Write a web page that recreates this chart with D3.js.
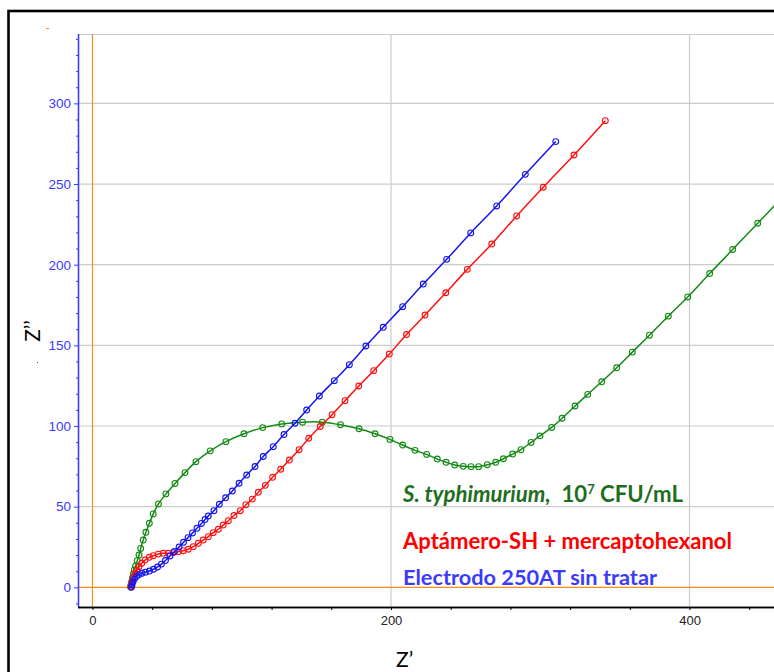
<!DOCTYPE html>
<html><head><meta charset="utf-8">
<script src="https://cdn.jsdelivr.net/npm/d3@7/dist/d3.min.js"></script>
<style>body{margin:0;background:#fff;overflow:hidden} svg{display:block}</style>
</head><body>
<svg id="c" width="774" height="672"></svg>
<script>
// ---- Data (Nyquist plots: Z' vs Z'') ----
const stRe = [25.5,25.8,26.3,26.7,27.3,28.0,28.9,30.0,31.2,32.3,34.0,35.8,38.1,40.7,44.2,49.2,55.3,62.0,69.3,78.9,89.4,101.5,114.0,126.8,140.7,154.0,166.2,178.6,189.3,199.3,207.8,216.1,223.9,231.0,236.9,242.7,248.4,253.6,258.7,264.5,270.2,275.3,281.5,287.1,293.8,299.8,307.7,314.6,323.3,331.8,341.2,351.2,361.7,373.1,385.8,398.8,413.5,428.9,445.7,462.0];
const stIm = [0.2,1.4,3.5,5.6,8.2,10.7,13.2,16.5,20.0,24.1,29.3,34.1,39.7,45.5,51.7,57.9,64.4,71.1,77.9,84.6,90.3,95.2,99.0,101.3,102.4,102.4,100.8,98.3,95.2,91.7,88.2,84.9,82.4,79.5,77.5,75.8,75.0,74.8,74.8,76.0,77.5,79.7,82.6,85.3,89.8,93.9,99.1,104.8,112.4,119.6,127.4,136.1,145.8,156.3,168.1,180.0,194.5,209.4,225.7,241.5];

const aptRe = [25.8,26.1,26.5,27.3,28.5,29.6,31.2,33.0,35.2,38.1,40.7,44.1,47.4,50.8,54.1,57.5,60.8,64.2,67.5,70.9,74.2,77.6,80.9,84.3,87.6,91.0,94.8,99.0,102.8,107.1,111.1,115.8,120.7,126.1,131.9,138.4,144.9,152.6,160.5,169.2,178.4,188.4,198.9,210.4,222.8,236.7,251.1,267.5,284.2,302.0,322.6,343.6];
const aptIm = [0.5,2.0,3.5,6.2,8.7,10.7,12.8,14.9,16.9,18.6,19.6,20.6,21.1,21.1,21.5,22.1,22.7,23.6,25.2,27.3,29.3,31.4,33.9,36.0,38.6,41.3,44.5,47.5,51.2,54.7,58.9,63.2,68.2,73.2,78.9,85.3,92.4,99.7,107.0,115.7,124.8,134.3,144.6,156.7,168.8,182.6,197.1,212.8,230.2,248.0,268.0,289.3];

const bareRe = [26.1,26.5,27.1,28.1,29.5,31.2,33.2,35.5,38.2,40.9,43.6,46.2,48.9,51.9,54.9,58.0,61.0,64.0,67.0,70.0,73.0,75.4,77.6,81.4,85.0,89.2,93.7,98.2,103.3,108.9,114.4,121.1,128.3,135.7,143.5,152.0,162.0,172.1,183.2,194.8,207.8,221.6,237.3,253.4,270.8,290.0,310.4];
const bareIm = [0.0,1.4,3.3,5.1,6.7,7.9,8.7,9.4,10.1,11.2,12.6,14.4,16.6,19.4,22.2,25.0,27.9,30.8,33.7,36.6,39.6,42.0,44.2,47.5,51.5,55.5,59.7,64.5,69.6,74.9,81.1,87.2,94.7,101.7,109.9,118.6,128.1,138.0,149.6,161.2,174.0,188.0,203.3,219.7,236.4,256.0,276.3];

const yMajorTicks = [0,50,100,150,200,250,300];
const yMinorTicks = [-10,10,20,30,40,60,70,80,90,110,120,130,140,160,170,180,190,210,220,230,240,260,270,280,290,310,320,330,340];
const xMajorTicks = [0,200,400];
const xMinorTicks = [40,80,120,160,240,280,320,360,440];
const yGrid = [50,100,150,200,250,300];
const xGrid = [200,400];

const legendLines = [
  {parts:[{t:"S. typhimurium,",it:true},{t:"  10"},{t:"7",sup:true},{t:" CFU/mL"}], color:"#1d6e1d", w:280},
  {parts:[{t:"Aptámero-SH + mercaptohexanol"}], color:"#ff0000", w:329},
  {parts:[{t:"Electrodo 250AT sin tratar"}], color:"#3a3aff", w:254}
];
const series = [
  {re:stRe, im:stIm, color:"#138a13"},
  {re:aptRe, im:aptIm, color:"#ff1010"},
  {re:bareRe, im:bareIm, color:"#1515f0"}
];

// ---- Layout ----
const L=78, R=774, T=34, B=607;
const x = d3.scaleLinear().domain([-9.7,456.6]).range([L,R]);
const y = d3.scaleLinear().domain([-12.2,343]).range([B,T]);

const svg = d3.select("#c");
svg.append("rect").attr("x",0).attr("y",0).attr("width",774).attr("height",672).attr("fill","#fff");
// outer frame
svg.append("rect").attr("x",8.5).attr("y",11).attr("width",820).attr("height",720)
  .attr("fill","none").attr("stroke","#000").attr("stroke-width",2.6);

svg.append("defs").append("clipPath").attr("id","clip").append("rect")
  .attr("x",L).attr("y",T).attr("width",R-L).attr("height",B-T);

const g = svg.append("g");
// grid
g.selectAll(".hg").data(yGrid).join("line")
  .attr("x1",L).attr("x2",R).attr("y1",d=>y(d)).attr("y2",d=>y(d))
  .attr("stroke","#cbcbcb").attr("stroke-width",1.2);
g.selectAll(".vg").data(xGrid).join("line")
  .attr("y1",T).attr("y2",B).attr("x1",d=>x(d)).attr("x2",d=>x(d))
  .attr("stroke","#cbcbcb").attr("stroke-width",1.2);
g.append("line").attr("x1",L).attr("x2",R).attr("y1",T+0.5).attr("y2",T+0.5)
  .attr("stroke","#cbcbcb").attr("stroke-width",1.2);
// origin lines (orange)
g.append("line").attr("x1",x(0)).attr("x2",x(0)).attr("y1",T).attr("y2",B)
  .attr("stroke","#ff8c1a").attr("stroke-width",1.2);
g.append("line").attr("x1",L).attr("x2",R).attr("y1",y(0)).attr("y2",y(0))
  .attr("stroke","#ff8c1a").attr("stroke-width",1.2);
// stray marks
svg.append("line").attr("x1",46).attr("x2",49).attr("y1",28.5).attr("y2",28.5).attr("stroke","#ff8c1a").attr("stroke-width",1);
svg.append("line").attr("x1",37).attr("x2",38).attr("y1",362.5).attr("y2",362.5).attr("stroke","#3a3aff").attr("stroke-width",1);

// series
const plot = svg.append("g").attr("clip-path","url(#clip)");
const line = d3.line().x(d=>x(d[0])).y(d=>y(d[1])).curve(d3.curveCatmullRom.alpha(0.5));
series.forEach(s=>{
  const pts = s.re.map((v,i)=>[v,s.im[i]]);
  plot.append("path").datum(pts).attr("d",line).attr("fill","none")
    .attr("stroke",s.color).attr("stroke-width",1.5);
  plot.selectAll(null).data(pts).join("circle")
    .attr("cx",d=>x(d[0])).attr("cy",d=>y(d[1])).attr("r",2.9)
    .attr("fill","none").attr("stroke",s.color).attr("stroke-width",1.1);
});

// Y axis (blue)
const yc = "#3a3aff";
const yAxMin = svg.append("g").attr("transform",`translate(${L},0)`)
  .call(d3.axisLeft(y).tickValues(yMinorTicks).tickSize(2).tickFormat(""));
const yAxMaj = svg.append("g").attr("transform",`translate(${L},0)`)
  .call(d3.axisLeft(y).tickValues(yMajorTicks).tickSize(4).tickPadding(3));
[yAxMin,yAxMaj].forEach(a=>{
  a.select(".domain").attr("stroke",yc).attr("stroke-width",1.3).attr("d",`M0.5,${T}V${B}`);
  a.selectAll(".tick line").attr("stroke",yc);
  a.selectAll("text").attr("fill",yc).style("font-family","Liberation Sans, Arial, sans-serif").style("font-size","13.5px");
});

// X axis (black)
const xAxMin = svg.append("g").attr("transform",`translate(0,${B})`)
  .call(d3.axisBottom(x).tickValues(xMinorTicks).tickSize(3).tickFormat(""));
const xAxMaj = svg.append("g").attr("transform",`translate(0,${B})`)
  .call(d3.axisBottom(x).tickValues(xMajorTicks).tickSize(3).tickPadding(6));
[xAxMin,xAxMaj].forEach(a=>{
  a.select(".domain").attr("stroke","#000").attr("stroke-width",1.3).attr("d",`M${L},0.5H${R}`);
  a.selectAll(".tick line").attr("stroke","#000");
  a.selectAll("text").attr("fill","#222").style("font-family","Liberation Sans, Arial, sans-serif").style("font-size","13px");
});

// axis titles
svg.append("text").attr("x",396).attr("y",667).text("Z’")
  .style("font-family","Lato, 'Open Sans', sans-serif").style("font-size","21px").attr("fill","#000");
svg.append("text").attr("transform","translate(40,331) rotate(-90)").attr("text-anchor","middle").text("Z’’")
  .style("font-family","Lato, 'Open Sans', sans-serif").style("font-size","21px").attr("fill","#000");

// legend text
const legendY = [502,549,585];
legendLines.forEach((ln,i)=>{
  const t = svg.append("text").attr("x",403).attr("y",legendY[i])
    .attr("fill",ln.color).style("font-family","Lato, 'Open Sans', sans-serif")
    .style("font-weight","bold").style("font-size","20px").style("white-space","pre");
  ln.parts.forEach((p,k)=>{
    const ts = t.append("tspan").text(p.t);
    if(p.it) ts.style("font-style","italic");
    if(p.sup) ts.attr("dy",-8).style("font-size","13px");
    else if(k>0 && ln.parts[k-1].sup) ts.attr("dy",8);
  });
  const w = t.node().getComputedTextLength();
  const fs = Math.max(18, Math.min(23, 20*ln.w/w));
  t.style("font-size",fs+"px");
  t.attr("textLength",ln.w).attr("lengthAdjust","spacingAndGlyphs");
});
</script>
</body></html>
